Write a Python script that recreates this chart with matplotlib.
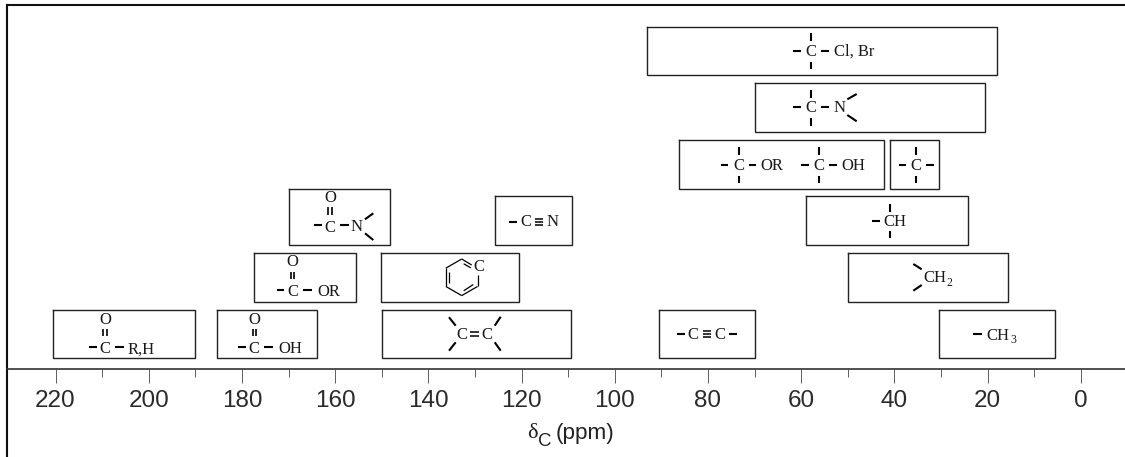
import matplotlib
matplotlib.use("Agg")
import matplotlib.pyplot as plt
import numpy as np

W, H = 1125, 457

# chemical shift ranges, ppm
group_names = ["ketone", "acid", "alkene", "alkyne", "methyl",
               "ester", "aromatic", "methylene",
               "amide", "nitrile", "methine",
               "ether", "quaternary",
               "amine",
               "halide"]
ppm_high = [220.5, 185.3, 150.0, 90.4, 30.4,
            177.4, 150.2, 50.0,
            170.0, 125.7, 59.0,
            86.1, 41.0,
            70.0,
            93.0]
ppm_low = [190.0, 163.8, 109.4, 69.8, 5.5,
           155.5, 120.5, 15.5,
           148.2, 109.1, 24.2,
           42.2, 30.5,
           20.5,
           17.9]
levels = [0, 0, 0, 0, 0,
          1, 1, 1,
          2, 2, 2,
          3, 3,
          4,
          5]

major_ticks = [220, 200, 180, 160, 140, 120, 100, 80, 60, 40, 20, 0]
minor_ticks = [210, 190, 170, 150, 130, 110, 90, 70, 50, 30, 10]

fig = plt.figure(figsize=(W / 100, H / 100), dpi=100)

# 220 ppm sits at x=55.5 px and 0 ppm at x=1080.7 px
px_per_ppm = (1080.7 - 55.5) / 220
ax = fig.add_axes([0, 0, 1, 1])
ax.set_xlim(1080.7 / px_per_ppm, (1080.7 - W) / px_per_ppm)
ax.set_ylim(H, 0)
ax.patch.set_visible(False)

# frame and the shift axis
left_edge = (1080.7 - 7) / px_per_ppm
ax.spines["top"].set_position(("data", 5.3))
ax.spines["top"].set_bounds(left_edge, ax.get_xlim()[1])
ax.spines["bottom"].set_position(("data", 368.7))
ax.spines["bottom"].set_bounds(left_edge, ax.get_xlim()[1])
ax.spines["left"].set_position(("data", left_edge))
ax.spines["left"].set_bounds(H, 5.3)
ax.spines["right"].set_visible(False)
for s in ["top", "left"]:
    ax.spines[s].set_linewidth(1.5)
    ax.spines[s].set_color("#111111")
ax.spines["bottom"].set_linewidth(1.2)
ax.spines["bottom"].set_color("#333333")

ax.set_xticks(major_ticks)
ax.set_xticks(minor_ticks, minor=True)
ax.tick_params(axis="x", which="major", length=10, width=0.6, color="#444444", pad=5,
               labelsize=17.5, labelcolor="#2a2a2a")
ax.tick_params(axis="x", which="minor", length=6, width=0.6, color="#444444")
ax.set_yticks([])
for lab in ax.get_xticklabels():
    lab.set_family("Liberation Sans")

# boxes: rows step up from the axis
for name, hi, lo, lev in zip(group_names, ppm_high, ppm_low, levels):
    top = 309.5 - lev * 56.6
    bot = top + 48.8
    if name == "amide":
        top -= 7.3
    ax.plot([hi, lo, lo, hi, hi], [top, top, bot, bot, top], color="#222222", lw=1.0,
            solid_joinstyle="miter")

# structure drawings, in picture pixels
ov = fig.add_axes([0, 0, 1, 1])
ov.set_xlim(0, W)
ov.set_ylim(H, 0)
ov.axis("off")


def bond(x0, y0, x1, y1, lw=1.5):
    ov.plot([x0, x1], [y0, y1], color="black", lw=lw, solid_capstyle="butt")


def atom(x, y, s, ha="center", size=12):
    ov.text(x, y, s, family="Liberation Serif", fontsize=size, ha=ha, va="center",
            color="#1a1a1a")


def carbonyl(x, y, label, label_x):
    atom(x, y + 2.5, "C")
    atom(x, y - 27, "O")
    bond(x - 16, y, x - 8.5, y)
    bond(x + 10, y, x + 19, y)
    bond(x - 1.7, y - 18, x - 1.7, y - 10.5, 1.2)
    bond(x + 1.7, y - 18, x + 1.7, y - 10.5, 1.2)
    if label:
        atom(label_x, y + 2.5, label, ha="left")


def sp3(x, y):
    atom(x, y + 1, "C")
    bond(x - 17.7, y, x - 10.3, y)
    bond(x + 10, y, x + 17.7, y)
    bond(x, y - 17.3, x, y - 9.7)
    bond(x, y + 11, x, y + 18.6)


def triple(x0, x1, y):
    for dy in (-3, 0, 3):
        bond(x0, y + dy, x1, y + dy, 1.1)


carbonyl(105, 346.7, "R,H", 128)
carbonyl(254.3, 346.7, "OH", 278)
carbonyl(292.7, 289.5, "OR", 317.7)
carbonyl(330, 225, "", 0)
atom(356.7, 227.3, "N")
bond(365, 219.3, 373.3, 213.3)
bond(365, 233.3, 373.3, 240)

bond(509, 221.5, 517.3, 221.5)
atom(525.7, 222.5, "C")
triple(535, 543.3, 221.7)
atom(552.7, 222.5, "N")

# benzene ring, left open where the C sits
ang = np.radians([30, -30, -90, -150, 150, 90])
ring_x = 461.7 + 18.3 * np.cos(ang)
ring_y = 277.3 - 18.3 * np.sin(ang)
bond(ring_x[0], 275, ring_x[1], ring_y[1], 0.9)
for i in range(1, 5):
    bond(ring_x[i], ring_y[i], ring_x[i + 1], ring_y[i + 1], 0.9)
in_x = 461.7 + 14.5 * np.cos(ang)
in_y = 277.3 - 14.5 * np.sin(ang)
bond(in_x[1] - 1, in_y[1], in_x[2] + 2, in_y[2] - 1, 0.9)
bond(in_x[3], in_y[3] - 2, in_x[4], in_y[4] + 2, 0.9)
bond(in_x[5] + 2, in_y[5] + 1, in_x[5] + 9, in_y[5] + 5, 0.9)
bond(ring_x[5], ring_y[5], ring_x[5] + 10, ring_y[5] + 6, 0.9)
atom(479.3, 267.3, "C")

atom(461.7, 335, "C")
atom(487.3, 335, "C")
for dy in (-2, 2):
    bond(470, 334 + dy, 479, 334 + dy, 1.1)
bond(449, 317.3, 455.7, 325.7)
bond(449, 350.7, 455.7, 342.3)
bond(500.7, 316.7, 494.7, 325.7)
bond(500.7, 350.7, 494.7, 342.3)

bond(676.7, 334, 685, 334)
atom(693.3, 335, "C")
triple(702.7, 711, 334)
atom(720, 335, "C")
bond(729.3, 334, 737.3, 334)

sp3(811, 50.7)
atom(834, 51.7, "Cl, Br", ha="left")
sp3(811, 107.3)
atom(840, 108.3, "N")
bond(847.3, 99.3, 856.7, 94)
bond(847.3, 115, 856.7, 121.3)
sp3(738.7, 164.7)
atom(760.7, 165.7, "OR", ha="left")
sp3(819, 164.7)
atom(841, 165.7, "OH", ha="left")
sp3(916.3, 164.7)

bond(871.7, 221.3, 880, 221.3)
bond(890, 204, 890, 211.7)
bond(890, 230.7, 890, 238.3)
atom(883, 222.3, "CH", ha="left")

bond(913.3, 264, 921.7, 269.3)
bond(913.3, 290.7, 921.7, 285)
atom(923, 278.3, "CH", ha="left")
atom(946.5, 282.5, "2", ha="left", size=8.5)

bond(973.3, 334, 981.7, 334)
atom(986, 335.7, "CH", ha="left")
atom(1010, 340, "3", ha="left", size=8.5)

# axis title, pieced so the subscript sits as low as in the print
ov.text(527, 434, "\u03b4", family="Liberation Serif", fontsize=16, ha="left", va="center",
        color="#222222")
ov.text(538, 442, "C", family="Liberation Sans", fontsize=13.5, ha="left", va="center",
        color="#222222")
ov.text(556, 434, "(ppm)", family="Liberation Sans", fontsize=16.2, ha="left", va="center",
        color="#222222")

fig.savefig("out.png", dpi=100)
